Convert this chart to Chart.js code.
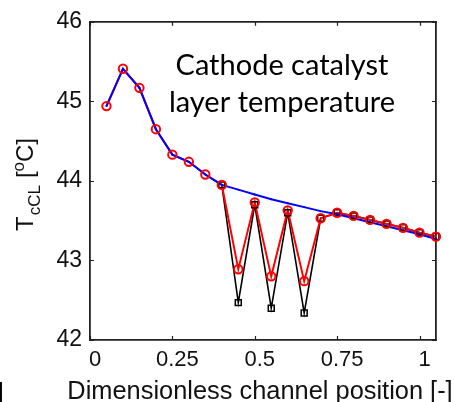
<!DOCTYPE html>
<html><head><meta charset="utf-8">
<script src="https://cdn.jsdelivr.net/npm/chart.js@4.4.1/dist/chart.umd.min.js"></script>
<style>html,body{margin:0;padding:0;background:#fff;}#wrap{width:454px;height:402px;position:relative;}</style>
</head><body><div id="wrap"><canvas id="c" width="454" height="402"></canvas></div>
<script>
// Dimensionless channel positions of the computed points
const positions = [0.05,0.10,0.15,0.20,0.25,0.30,0.35,0.40,0.45,0.50,0.55,0.60,0.65,0.70,0.75,0.80,0.85,0.90,0.95,1.00,1.05];
// Blue: smooth temperature profile
const blueTemp  = [44.94,45.41,45.17,44.65,44.33,44.24,44.08,43.95,43.89,43.83,43.77,43.72,43.67,43.62,43.58,43.53,43.48,43.43,43.38,43.33,43.27];
// Red circles
const redTemp   = [44.94,45.41,45.17,44.65,44.33,44.24,44.08,43.95,42.89,43.73,42.80,43.63,42.74,43.53,43.60,43.56,43.51,43.46,43.41,43.35,43.30];
// Black squares
const blackTemp = [null,null,null,null,null,null,null,43.95,42.47,43.70,42.40,43.60,42.34,43.53,43.60,43.56,43.51,43.46,43.41,43.35,43.30];
const xTicks = [0,0.25,0.5,0.75,1];
const yTicks = [42,43,44,45,46];
const xRange = [0,1.05];
const yRange = [42,46];
const noteLines = ['Cathode catalyst','layer temperature'];
const xTitle = 'Dimensionless channel position [-]';

const pts = arr => positions.map((x,i)=>({x:x,y:arr[i]}));
const AX = '#222';
const SANS = '"Liberation Sans", Arial, sans-serif';
const tickFont = {family:SANS, size:22};

const decor = {
  id:'decor',
  afterDraw(chart){
    const ctx = chart.ctx, a = chart.chartArea, xs = chart.scales.x, ys = chart.scales.y;
    ctx.save();
    ctx.strokeStyle = AX; ctx.lineWidth = 1.2;
    ctx.beginPath();
    xTicks.forEach(v=>{const p = Math.round(xs.getPixelForValue(v))+0.5;
      ctx.moveTo(p,a.bottom); ctx.lineTo(p,a.bottom-4);
      ctx.moveTo(p,a.top); ctx.lineTo(p,a.top+4);});
    yTicks.forEach(v=>{const p = Math.round(ys.getPixelForValue(v))+0.5;
      ctx.moveTo(a.left,p); ctx.lineTo(a.left+4,p);
      ctx.moveTo(a.right,p); ctx.lineTo(a.right-4,p);});
    ctx.stroke();

    // annotation
    ctx.fillStyle = '#000';
    ctx.font = '29px Lato, "Open Sans", sans-serif';
    ctx.textAlign = 'center'; ctx.textBaseline = 'alphabetic';
    ctx.fillText(noteLines[0], 282, 75);
    ctx.fillText(noteLines[1], 282, 112);

    // x-axis title
    ctx.save();
    ctx.fillStyle = '#111';
    ctx.font = '25.4px ' + SANS;
    ctx.textAlign = 'center';
    ctx.fillText(xTitle, 260, 399);
    ctx.restore();

    // y-axis title with subscript / superscript, rotated
    ctx.translate(33, 231);
    ctx.rotate(-Math.PI/2);
    ctx.textAlign = 'left';
    const big = '24px ' + SANS;
    const small = '17px ' + SANS;
    let x = 0;
    ctx.fillStyle = '#111';
    ctx.font = big; ctx.fillText('T', x, 0); x += ctx.measureText('T').width + 1;
    ctx.font = small; ctx.fillText('cCL', x, 7); x += ctx.measureText('cCL').width + 7;
    ctx.font = big; ctx.fillText('[', x, 0); x += ctx.measureText('[').width;
    ctx.font = small; ctx.fillText('o', x, -9); x += ctx.measureText('o').width;
    ctx.font = big; ctx.fillText('C]', x, 0);
    ctx.restore();

    // fragment of neighbouring panel label
    ctx.save();
    ctx.fillStyle = '#000';
    ctx.font = '24px ' + SANS;
    ctx.textBaseline = 'alphabetic'; ctx.textAlign = 'left';
    ctx.fillText(']', -3, 399);
    ctx.restore();
  }
};

const lineOnly = {pointRadius:0, tension:0, clip:false};
new Chart(document.getElementById('c'), {
  type:'line',
  data:{datasets:[
    // markers (top layers)
    {label:'red markers', data:pts(redTemp), showLine:false, pointStyle:'circle', pointRadius:4.2, pointBorderWidth:2, pointBorderColor:'#ff0000', pointBackgroundColor:'rgba(0,0,0,0)', clip:false},
    {label:'black markers', data:pts(blackTemp), showLine:false, pointStyle:'rect', pointRadius:4.2, pointBorderWidth:1.5, pointBorderColor:'#000', pointBackgroundColor:'rgba(0,0,0,0)', clip:false},
    // lines
    Object.assign({label:'blue', data:pts(blueTemp), borderColor:'#0000ff', borderWidth:2}, lineOnly, {pointRadius:1, pointBorderWidth:0, pointBackgroundColor:'#0000ff'}),
    Object.assign({label:'red', data:pts(redTemp), borderColor:'#ff0000', borderWidth:2}, lineOnly),
    Object.assign({label:'black', data:pts(blackTemp), borderColor:'#000', borderWidth:1.6, spanGaps:false}, lineOnly)
  ]},
  options:{
    responsive:false, animation:false, devicePixelRatio:1,
    layout:{padding:0},
    plugins:{legend:{display:false}, tooltip:{enabled:false}},
    scales:{
      x:{type:'linear', position:'bottom', min:xRange[0], max:xRange[1],
        afterBuildTicks:s=>{s.ticks = xTicks.map(v=>({value:v}));},
        afterFit:s=>{s.height = 62;},
        grid:{drawOnChartArea:false, drawTicks:false},
        border:{color:AX, width:1.8},
        ticks:{color:'#111', font:tickFont, padding:7, labelOffset:5, maxRotation:0, autoSkip:false, callback:v=>String(v)}
      },
      x2:{type:'linear', position:'top', min:xRange[0], max:xRange[1],
        afterFit:s=>{s.height = 20;},
        grid:{drawOnChartArea:false, drawTicks:false}, border:{color:AX, width:1.8}, ticks:{display:false}},
      y:{type:'linear', position:'left', min:yRange[0], max:yRange[1],
        afterBuildTicks:s=>{s.ticks = yTicks.map(v=>({value:v}));},
        afterFit:s=>{s.width = 90;},
        grid:{drawOnChartArea:false, drawTicks:false},
        border:{color:AX, width:1.8},
        ticks:{color:'#111', font:{family:SANS, size:23}, padding:8, callback:v=>String(v)}
      },
      y2:{type:'linear', position:'right', min:yRange[0], max:yRange[1],
        afterFit:s=>{s.width = 18;},
        grid:{drawOnChartArea:false, drawTicks:false}, border:{color:AX, width:1.8}, ticks:{display:false}}
    }
  },
  plugins:[decor]
});
</script></body></html>
